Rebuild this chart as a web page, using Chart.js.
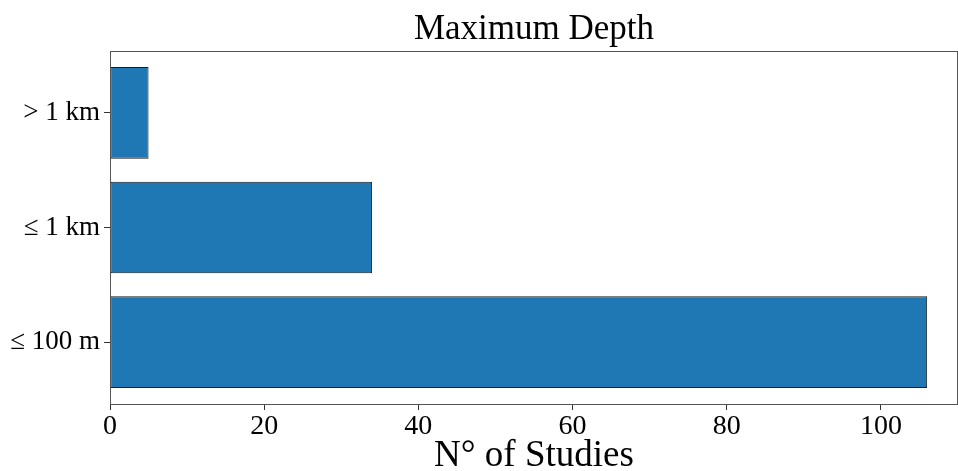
<!DOCTYPE html>
<html>
<head>
<meta charset="utf-8">
<script src="https://cdn.jsdelivr.net/npm/chart.js@4"></script>
<style>
  html, body { margin: 0; padding: 0; background: #fff; }
  #wrap { width: 958px; height: 471px; }
</style>
</head>
<body>
<div id="wrap"><canvas id="myChart" width="958" height="471"></canvas></div>
<script>
const categories = ['≤ 100 m', '≤ 1 km', '> 1 km'];
const studies = [106, 34, 5];
const xTicks = [0, 20, 40, 60, 80, 100];

const serif = '"Liberation Serif", "Times New Roman", serif';
const spineColor = '#555555';

// matplotlib-like box around the plot area
const frame = {
  id: 'frame',
  afterDraw(chart) {
    const { ctx, chartArea: a } = chart;
    ctx.save();
    ctx.strokeStyle = spineColor;
    ctx.lineWidth = 1;
    ctx.strokeRect(a.left + 0.5, a.top + 0.5, a.right - a.left - 1, a.bottom - a.top);
    ctx.restore();
  }
};

const ctx = document.getElementById('myChart');

new Chart(ctx, {
  type: 'bar',
  data: {
    datasets: [{
      label: 'N° of Studies',
      data: studies.map((v, i) => ({ x: v, y: i })),
      backgroundColor: '#1f77b4',
      borderColor: '#1a1a1a',
      borderWidth: 1,
      borderSkipped: false,
      barPercentage: 0.8,
      categoryPercentage: 1
    }]
  },
  plugins: [frame],
  options: {
    indexAxis: 'y',
    responsive: false,
    animation: false,
    layout: { padding: 0 },
    plugins: {
      legend: { display: false },
      tooltip: { enabled: false },
      title: {
        display: true,
        fullSize: false,
        text: 'Maximum Depth',
        color: '#000',
        font: { family: serif, size: 35, weight: 'normal', lineHeight: 1 },
        padding: { top: 12, bottom: 4 }
      }
    },
    scales: {
      x: {
        type: 'linear',
        min: 0,
        max: 110,
        offset: false,
        afterBuildTicks: s => { s.ticks = xTicks.map(v => ({ value: v })); },
        afterFit: s => { s.height = 67; },
        grid: { display: true, offset: false, drawOnChartArea: false, drawTicks: true, tickLength: 6, tickColor: '#333' },
        border: { display: false },
        ticks: { color: '#000', padding: 0, maxRotation: 0, font: { family: serif, size: 28 } },
        title: {
          display: true,
          text: 'N° of Studies',
          color: '#000',
          font: { family: serif, size: 37, lineHeight: 1 },
          padding: { top: 0, bottom: -4 }
        }
      },
      y: {
        type: 'linear',
        min: -0.54,
        max: 2.54,
        offset: false,
        afterBuildTicks: s => { s.ticks = categories.map((c, i) => ({ value: i })); },
        afterFit: s => { s.width = 110; },
        grid: { display: true, offset: false, drawOnChartArea: false, drawTicks: true, tickLength: 6, tickColor: '#333' },
        border: { display: false },
        ticks: {
          color: '#000',
          padding: 4,
          font: { family: serif, size: 27 },
          callback: v => categories[v]
        }
      }
    }
  }
});
</script>
</body>
</html>
